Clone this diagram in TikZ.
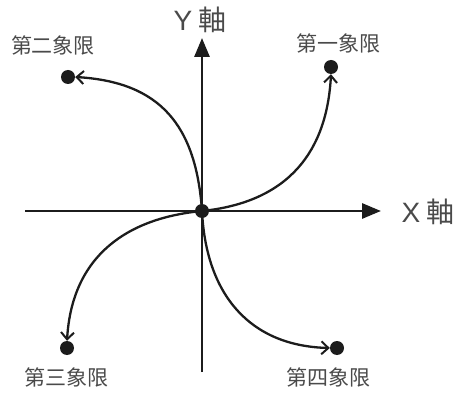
\documentclass[tikz,border=0pt]{standalone}
\usepackage{fontspec}
\setmainfont{Liberation Sans}
\newfontfamily\cjk{Noto Sans CJK TC}
\usetikzlibrary{arrows.meta}
\definecolor{ink}{HTML}{1C1C1C}
\definecolor{txt}{HTML}{4A4A4A}
\tikzset{
  axisline/.style={line width=2.9pt, draw=ink, -{Triangle[length=19pt,width=15pt]}},
  curveline/.style={line width=2.3pt, draw=ink, -{Straight Barb[length=7pt,width=13pt,line width=2pt]}},
  pt/.style={circle, fill=ink, minimum size=14pt, inner sep=0pt},
  quad/.style={font=\cjk\fontsize{21}{21}\selectfont, text=txt, inner sep=0pt},
  axlab/.style={font=\fontsize{28}{28}\selectfont, text=txt, inner sep=0pt}
}
\begin{document}
\begin{tikzpicture}[x=1pt,y=-1pt]
\useasboundingbox (0,0) rectangle (458,398);
\coordinate (xl) at (25,211);
\coordinate (xr) at (381,211);
\coordinate (yb) at (202,372);
\coordinate (yt) at (202,38);
\draw[axisline] (xl) -- (xr);
\draw[axisline] (yb) -- (yt);
\node[pt] (o) at (202,211) {};
\node[pt] (q1) at (331,67) {};
\node[pt] (q2) at (68,77) {};
\node[pt] (q3) at (67,348) {};
\node[pt] (q4) at (337,348) {};
\draw[curveline] (o.center) .. controls (290,202) and (327,150) .. (q1.south);
\draw[curveline] (o.center) .. controls (196,125) and (160,82) .. (q2.east);
\draw[curveline] (o.center) .. controls (128,218) and (72,255) .. (q3.north);
\draw[curveline] (o.center) .. controls (206,295) and (250,346) .. (q4.west);
\node[quad] (l2) at (53,45) {第二象限};
\node[quad] (l1) at (338,43) {第一象限};
\node[quad] (l3) at (66,377) {第三象限};
\node[quad] (l4) at (328,377) {第四象限};
\node[axlab] (ly) at (200,20) {Y\hspace{6pt}{\cjk 軸}};
\node[axlab] (lx) at (428,212) {X\hspace{6pt}{\cjk 軸}};
\end{tikzpicture}
\end{document}
